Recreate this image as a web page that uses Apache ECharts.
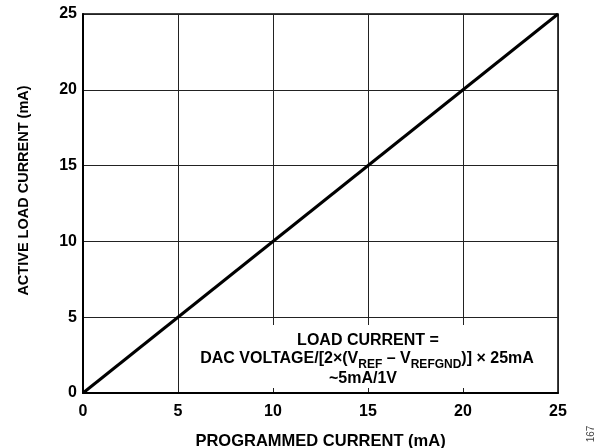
<!DOCTYPE html>
<html>
<head>
<meta charset="utf-8">
<script src="https://cdn.jsdelivr.net/npm/echarts@6/dist/echarts.min.js"></script>
<style>html,body{margin:0;padding:0;background:#fff;}#c{width:604px;height:448px;}</style>
</head>
<body>
<div id="c"></div>
<script>
const programmed = [0, 25];
const activeLoad = [0, 25];
const xTicks = [0, 5, 10, 15, 20, 25];
const yTicks = [0, 5, 10, 15, 20, 25];
const xName = 'PROGRAMMED CURRENT (mA)';
const yName = 'ACTIVE LOAD CURRENT (mA)';
const noteLines = ['LOAD CURRENT =', 'DAC VOLTAGE/[2×(V{sub|REF} – V{sub|REFGND})] × 25mA', '~5mA/1V'];

const FONT = 'Liberation Sans, Arial, sans-serif';
const chart = echarts.init(document.getElementById('c'), null, {renderer: 'canvas'});
const data = programmed.map((x, i) => [x, activeLoad[i]]);
chart.setOption({
  animation: false,
  backgroundColor: '#fff',
  grid: {left: 83, right: 46, top: 14, bottom: 55, show: true, borderColor: '#000', borderWidth: 1.5,
         outerBoundsMode: 'none', containLabel: false},
  xAxis: {
    type: 'value', min: xTicks[0], max: xTicks[xTicks.length - 1], interval: 5,
    name: xName, nameLocation: 'middle', nameGap: 40,
    nameTextStyle: {fontFamily: FONT, fontWeight: 'bold', fontSize: 16.5, color: '#000'},
    axisLine: {show: true, lineStyle: {color: '#000', width: 2}},
    axisTick: {show: false},
    axisLabel: {fontFamily: FONT, fontWeight: 'bold', fontSize: 16, color: '#000', margin: 11},
    splitLine: {show: true, lineStyle: {color: '#222', width: 1}}
  },
  yAxis: {
    type: 'value', min: yTicks[0], max: yTicks[yTicks.length - 1], interval: 5,
    name: yName, nameLocation: 'middle', nameGap: 52,
    nameTextStyle: {fontFamily: FONT, fontWeight: 'bold', fontSize: 14.5, color: '#000', padding: [0, 0, 0, 26]},
    axisLine: {show: true, lineStyle: {color: '#000', width: 2}},
    axisTick: {show: false},
    axisLabel: {fontFamily: FONT, fontWeight: 'bold', fontSize: 16, color: '#000', margin: 6},
    splitLine: {show: true, lineStyle: {color: '#222', width: 1}}
  },
  series: [{
    type: 'line', data: data, symbol: 'none', z: 5,
    lineStyle: {color: '#000', width: 3}
  }],
  graphic: [
    {type: 'rect', z: 1, shape: {x: 188, y: 325, width: 368, height: 63}, style: {fill: '#fff'}},
    {type: 'text', z: 2, x: 368, y: 341, style: {text: noteLines[0], font: 'bold 16px ' + FONT, fill: '#000', align: 'center', verticalAlign: 'middle'}},
    {type: 'text', z: 2, x: 367, y: 359, style: {
      text: noteLines[1], fill: '#000', align: 'center', verticalAlign: 'middle',
      fontFamily: FONT, fontWeight: 'bold', fontSize: 16, lineHeight: 18,
      rich: {sub: {fontFamily: FONT, fontWeight: 'bold', fontSize: 12, lineHeight: 12, padding: [12, 0, 0, 0], fill: '#000'}}
    }},
    {type: 'text', z: 2, x: 363, y: 379, style: {text: noteLines[2], font: 'bold 16px ' + FONT, fill: '#000', align: 'center', verticalAlign: 'middle'}},
    {type: 'text', z: 2, x: 591, y: 434, rotation: Math.PI / 2, style: {text: '167', font: '10px ' + FONT, fill: '#444', align: 'center', verticalAlign: 'middle'}}
  ]
});
</script>
</body>
</html>
